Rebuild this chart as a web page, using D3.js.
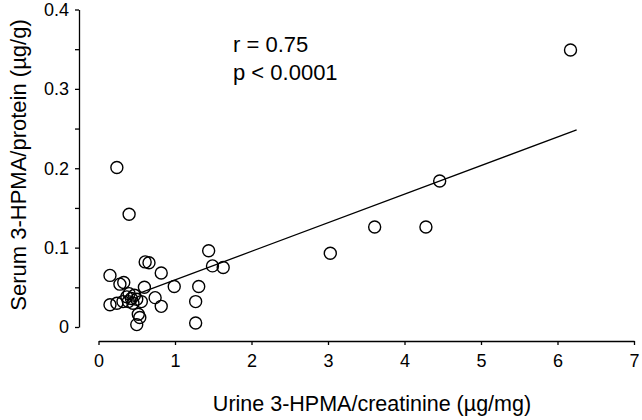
<!DOCTYPE html>
<html>
<head>
<meta charset="utf-8">
<script src="https://cdn.jsdelivr.net/npm/d3@7"></script>
<style>
  body { margin: 0; background: #fff; }
  svg { display: block; font-family: Arial, "Liberation Sans", sans-serif; }
</style>
</head>
<body>
<div id="scatter"></div>
<script>
// Data
const urine = [0.24, 0.40, 1.44, 0.61, 0.66, 0.82, 1.49, 1.63, 0.15, 0.28,
               0.33, 0.99, 1.31, 0.60, 0.40, 0.15, 0.24, 0.32, 0.39, 0.45,
               0.50, 0.56, 0.43, 0.74, 0.82, 1.27, 0.52, 0.54, 0.50, 1.27,
               3.03, 3.61, 4.28, 4.46, 6.17, 0.47, 0.37];
const serum = [0.201, 0.142, 0.096, 0.082, 0.081, 0.068, 0.077, 0.075, 0.065, 0.054,
               0.056, 0.051, 0.051, 0.050, 0.042, 0.028, 0.030, 0.032, 0.032, 0.030,
               0.035, 0.032, 0.036, 0.037, 0.026, 0.032, 0.016, 0.012, 0.003, 0.005,
               0.093, 0.126, 0.126, 0.184, 0.349, 0.040, 0.038];

// Regression line as drawn (start / end x, and y = a + b*x)
const fitX = [0.52, 6.25];
const fitA = 0.0233;
const fitB = 0.036;

const xTicks = [0, 1, 2, 3, 4, 5, 6, 7];
const yTicks = [0, 0.1, 0.2, 0.3, 0.4];
const yMinorTicks = [0.05, 0.15, 0.25, 0.35];
const statLines = ["r = 0.75", "p < 0.0001"];

const width = 642;
const height = 420;

const svg = d3.select("#scatter")
    .append("svg")
    .attr("width", width)
    .attr("height", height);

// Scales
const x = d3.scaleLinear().domain([0, 7]).range([98.5, 634]);
const y = d3.scaleLinear().domain([0, 0.4]).range([327, 9.5]);

const xAxisY = 341;
const yAxisX = 79;

// x axis (detached from the y axis)
svg.append("g")
    .attr("transform", `translate(0,${xAxisY})`)
    .call(d3.axisBottom(x).tickValues(xTicks).tickSize(4).tickSizeOuter(0).tickPadding(9)
        .tickFormat(d => String(d)));

// y axis with minor ticks
svg.append("g")
    .attr("transform", `translate(${yAxisX},0)`)
    .call(d3.axisLeft(y).tickValues(yMinorTicks).tickSize(4).tickFormat(""))
    .select(".domain").remove();

svg.append("g")
    .attr("transform", `translate(${yAxisX},0)`)
    .call(d3.axisLeft(y).tickValues(yTicks).tickSize(4).tickSizeOuter(0).tickPadding(6)
        .tickFormat(d => String(d)));

svg.selectAll(".tick text")
    .attr("font-size", 18)
    .attr("font-family", "Arial, 'Liberation Sans', sans-serif")
    .attr("fill", "#000");
svg.selectAll(".domain, .tick line")
    .attr("stroke", "#000")
    .attr("stroke-width", 1.3);

// Regression line
const line = d3.line()
    .x(d => x(d))
    .y(d => y(fitA + fitB * d));

svg.append("path")
    .datum(fitX)
    .attr("d", line)
    .attr("fill", "none")
    .attr("stroke", "#000")
    .attr("stroke-width", 1.3);

// Points
svg.selectAll(".dot")
    .data(d3.range(urine.length))
    .enter().append("circle")
    .attr("class", "dot")
    .attr("cx", i => x(urine[i]))
    .attr("cy", i => y(serum[i]))
    .attr("r", 6)
    .attr("fill", "none")
    .attr("stroke", "#000")
    .attr("stroke-width", 1.4);

// Stats annotation
svg.selectAll(".stat")
    .data(statLines)
    .enter().append("text")
    .attr("class", "stat")
    .attr("x", 233)
    .attr("y", (d, i) => 52 + i * 28)
    .attr("font-size", 22)
    .text(d => d);

// Axis titles
svg.append("text")
    .attr("x", 372)
    .attr("y", 411)
    .attr("text-anchor", "middle")
    .attr("font-size", 21.5)
    .text("Urine 3-HPMA/creatinine (µg/mg)");

svg.append("text")
    .attr("transform", "translate(26,165) rotate(-90)")
    .attr("text-anchor", "middle")
    .attr("font-size", 22)
    .text("Serum 3-HPMA/protein (µg/g)");
</script>
</body>
</html>
